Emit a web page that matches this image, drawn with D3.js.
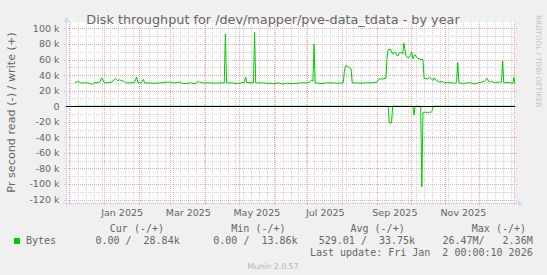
<!DOCTYPE html>
<html lang="en">
<head>
<meta charset="utf-8">
<title>Disk throughput for /dev/mapper/pve-data_tdata - by year</title>
<style type="text/css">
    body { margin: 0; background: #f0f0f0; }
    svg { display: block; }
    .txt { font-family: "DejaVu Sans", sans-serif; fill: #666; }
    .mono { font-family: "DejaVu Sans Mono", monospace; fill: #666; font-size: 10px; white-space: pre; }
</style>
</head>
<body>
<svg class="chart" width="547" height="275"></svg>
<script src="https://d3js.org/d3.v7.min.js"></script>
<script>
// write (+) bytes per second, in k
var writeDates = ["2024-12-06","2024-12-09","2024-12-11","2024-12-18","2024-12-21","2024-12-23","2024-12-28","2024-12-30","2025-01-01",
    "2025-01-04","2025-01-08","2025-01-11","2025-01-13","2025-01-15","2025-01-17","2025-01-18","2025-01-20","2025-01-24","2025-01-28",
    "2025-01-30","2025-01-31","2025-02-03","2025-02-05","2025-02-06","2025-02-15","2025-02-20","2025-02-26","2025-02-28","2025-03-04",
    "2025-03-09","2025-03-13","2025-03-19","2025-03-23","2025-03-26","2025-03-27","2025-03-30","2025-04-05","2025-04-10","2025-04-14",
    "2025-04-18","2025-04-19","2025-04-20","2025-04-25","2025-04-30","2025-05-03","2025-05-06","2025-05-07","2025-05-08","2025-05-14",
    "2025-05-15","2025-05-16","2025-05-22","2025-05-27","2025-06-01","2025-06-05","2025-06-09","2025-06-13","2025-06-19","2025-06-25",
    "2025-06-30","2025-07-03","2025-07-05","2025-07-06","2025-07-07","2025-07-08","2025-07-14","2025-07-18","2025-07-23","2025-07-27",
    "2025-08-02","2025-08-03","2025-08-04","2025-08-06","2025-08-08","2025-08-09","2025-08-10","2025-08-13","2025-08-17","2025-08-22",
    "2025-08-28","2025-09-01","2025-09-03","2025-09-06","2025-09-09","2025-09-10","2025-09-11","2025-09-13","2025-09-15","2025-09-17",
    "2025-09-19","2025-09-20","2025-09-21","2025-09-23","2025-09-24","2025-09-25","2025-09-27","2025-09-29","2025-10-01","2025-10-02",
    "2025-10-03","2025-10-05","2025-10-07","2025-10-10","2025-10-12","2025-10-13","2025-10-16","2025-10-18","2025-10-21","2025-10-22",
    "2025-10-24","2025-10-27","2025-10-29","2025-10-31","2025-11-03","2025-11-07","2025-11-09","2025-11-11","2025-11-12","2025-11-13",
    "2025-11-17","2025-11-20","2025-11-24","2025-11-27","2025-11-30","2025-12-03","2025-12-06","2025-12-08","2025-12-10","2025-12-12",
    "2025-12-15","2025-12-18","2025-12-21","2025-12-22","2025-12-23","2025-12-26","2025-12-29","2025-12-31","2026-01-01","2026-01-02"];
var writeValues = [30.4,32,30,30,28,30,31,36.5,30.5,
    30,31,36,33,34,32,33,30,30,30.5,
    37.5,30.5,30,34.5,30,29.5,30,31,31,30,
    31,29,30,29,32,31,30,30,29.5,30,
    30,93,30,30,29,30,30.5,37.5,30.5,30,
    95,30,30,29.5,29,30,28.5,29.5,29,30,
    30,31,34,32,80,30,29,30,30,29.5,
    30,45,52,51,49,48,30,30,29.5,30,
    30,31,35,35,36,62,72.7,73.5,67,70,
    65,65,69,69,67,81,64,62,66,70,
    61,66,62,60,60,36,35,37,33,36.5,
    33,31,32,30,30.5,30,29.5,31,56,30,
    29,30,30,28.5,30,31,32,36,31,32,
    30,31,31,58,30,30.5,30,29.5,37,29];

// read (-) bytes per second, in k
var readDates = ["2024-12-06","2025-09-11","2025-09-12","2025-09-14","2025-09-15","2025-10-03","2025-10-04","2025-10-05",
    "2025-10-10","2025-10-11","2025-10-12","2025-10-14","2025-10-16","2025-10-18","2025-10-19","2025-10-20","2025-10-21","2026-01-02"];
var readValues = [0,0,-21.5,-21.5,0,0,-11.5,0,
    0,-103.5,-8.5,-7.5,-8.2,-7.6,-8,-6.5,0,0];

var yTicks = [100000, 80000, 60000, 40000, 20000, 0, -20000, -40000, -60000, -80000, -100000, -120000];
var yTickLabels = ["100 k", "80 k", "60 k", "40 k", "20 k", "0", "-20 k", "-40 k", "-60 k", "-80 k", "-100 k", "-120 k"];
var xLabelMonths = ["2025-01", "2025-03", "2025-05", "2025-07", "2025-09", "2025-11"];
var xLabels = ["Jan 2025", "Mar 2025", "May 2025", "Jul 2025", "Sep 2025", "Nov 2025"];

var legendHeads = ["Cur (-/+)", "Min (-/+)", "Avg (-/+)", "Max (-/+)"];
var legendValues = ["0.00 /  28.84k", "0.00 /  13.86k", "529.01 /  33.75k", "26.47M/   2.36M"];

var svg = d3.select('.chart'),
    width = +svg.attr('width'),
    height = +svg.attr('height'),
    canvas = {left: 66, right: 515, top: 22, bottom: 203};

var parseDay = d3.timeParse('%Y-%m-%d'),
    parseMonth = d3.timeParse('%Y-%m');

var tStart = new Date(2024, 10, 28), tEnd = new Date(2026, 0, 2);

var x = d3.scaleTime().domain([tStart, tEnd]).range([canvas.left, canvas.right]),
    y = d3.scaleLinear().domain([-120000, 100000]).range([199.6, 28.4]);

function px(v) { return Math.round(v) + 0.5; }

svg.append('rect').attr('width', width).attr('height', height).attr('fill', '#f0f0f0');
svg.append('rect')
    .attr('x', canvas.left).attr('y', canvas.top)
    .attr('width', canvas.right - canvas.left).attr('height', canvas.bottom - canvas.top)
    .attr('fill', '#fff');

// grid
var grid = svg.append('g').attr('fill', 'none').attr('stroke-width', 1).attr('stroke-dasharray', '1,1');

var minorY = d3.range(-120000, 100001, 10000).filter(function(v) { return v % 20000 !== 0; });
grid.selectAll('.hmin').data(minorY).enter().append('line')
    .attr('x1', canvas.left).attr('x2', canvas.right)
    .attr('y1', function(d) { return px(y(d)); }).attr('y2', function(d) { return px(y(d)); })
    .attr('stroke', '#d4d4d4');

var weeks = d3.timeMonday.range(tStart, tEnd);
grid.selectAll('.vmin').data(weeks).enter().append('line')
    .attr('x1', function(d) { return px(x(d)); }).attr('x2', function(d) { return px(x(d)); })
    .attr('y1', canvas.top).attr('y2', canvas.bottom)
    .attr('stroke', '#d4d4d4');

grid.selectAll('.hmaj').data(yTicks).enter().append('line')
    .attr('x1', canvas.left - 2).attr('x2', canvas.right + 2)
    .attr('y1', function(d) { return px(y(d)); }).attr('y2', function(d) { return px(y(d)); })
    .attr('stroke', '#f3a5a5');

var months = d3.timeMonth.range(d3.timeMonth.ceil(tStart), tEnd);
grid.selectAll('.vmaj').data(months).enter().append('line')
    .attr('x1', function(d) { return px(x(d)); }).attr('x2', function(d) { return px(x(d)); })
    .attr('y1', canvas.top).attr('y2', canvas.bottom + 3)
    .attr('stroke', '#f3a5a5');

// axes
var axisCol = '#cfd6f8';
svg.append('line').attr('x1', canvas.left - 3).attr('x2', canvas.right + 3)
    .attr('y1', canvas.bottom + 0.5).attr('y2', canvas.bottom + 0.5).attr('stroke', axisCol);
svg.append('line').attr('x1', canvas.left + 0.5).attr('x2', canvas.left + 0.5)
    .attr('y1', canvas.bottom + 3).attr('y2', canvas.top - 2).attr('stroke', axisCol);
svg.append('path').attr('fill', axisCol)
    .attr('d', 'M' + (canvas.right + 8) + ',' + (canvas.bottom + 0.5) + 'l-5,-3v6z');
svg.append('path').attr('fill', axisCol)
    .attr('d', 'M' + (canvas.left + 0.5) + ',' + (canvas.top - 5) + 'l-3,5h6z');

// data lines
var line = d3.line()
    .x(function(d) { return x(d[0]); })
    .y(function(d) { return y(d[1] * 1000); });

var writeData = writeDates.map(function(d, i) { return [parseDay(d), writeValues[i]]; }),
    readData = readDates.map(function(d, i) { return [parseDay(d), readValues[i]]; });

svg.append('path').datum(readData).attr('d', line)
    .attr('fill', 'none').attr('stroke', '#00cc00').attr('stroke-width', 1);
svg.append('path').datum(writeData).attr('d', line)
    .attr('fill', 'none').attr('stroke', '#00cc00').attr('stroke-width', 1);

// zero line
svg.append('line').attr('x1', canvas.left).attr('x2', canvas.right)
    .attr('y1', px(y(0))).attr('y2', px(y(0))).attr('stroke', '#000');

// y tick labels
svg.selectAll('.ylab').data(yTicks).enter().append('text')
    .attr('class', 'txt').attr('font-size', '9.5px')
    .attr('x', 59.5).attr('y', function(d) { return y(d); }).attr('dy', '0.36em')
    .attr('text-anchor', 'end')
    .text(function(d, i) { return yTickLabels[i]; });

// x labels, centered half a month after month start
svg.selectAll('.xlab').data(xLabelMonths).enter().append('text')
    .attr('class', 'txt').attr('font-size', '9.5px')
    .attr('x', function(d) { return x(d3.timeDay.offset(parseMonth(d), 16)); })
    .attr('y', 215.5).attr('text-anchor', 'middle')
    .text(function(d, i) { return xLabels[i]; });

// titles
svg.append('text').attr('class', 'txt').attr('font-size', '12.8px')
    .attr('x', 273).attr('y', 24).attr('text-anchor', 'middle')
    .text('Disk throughput for /dev/mapper/pve-data_tdata - by year');

svg.append('text').attr('class', 'txt').attr('font-size', '11.2px')
    .attr('transform', 'translate(15,112.5) rotate(-90)').attr('text-anchor', 'middle')
    .text('Pr second read (-) / write (+)');

svg.append('text').attr('class', 'txt').attr('font-size', '7.2px').style('fill', '#c4c4c4')
    .attr('transform', 'translate(536,15) rotate(90)')
    .text('RRDTOOL / TOBI OETIKER');

// legend
svg.append('rect').attr('x', 14).attr('y', 238).attr('width', 6).attr('height', 6).attr('fill', '#00cc00');
svg.append('text').attr('class', 'mono').attr('x', 26).attr('y', 244).text('Bytes');

var headEnds = [164, 285.5, 404.7, 526],
    valueEnds = [179.7, 297.6, 415.1, 532.7];
svg.selectAll('.lhead').data(legendHeads).enter().append('text')
    .attr('class', 'mono').attr('text-anchor', 'end')
    .attr('x', function(d, i) { return headEnds[i]; }).attr('y', 232)
    .text(function(d) { return d; });
svg.selectAll('.lval').data(legendValues).enter().append('text')
    .attr('class', 'mono').attr('text-anchor', 'end')
    .attr('x', function(d, i) { return valueEnds[i]; }).attr('y', 244)
    .text(function(d) { return d; });
svg.append('text').attr('class', 'mono').attr('text-anchor', 'end')
    .attr('x', 532.7).attr('y', 256)
    .text('Last update: Fri Jan  2 00:00:10 2026');

svg.append('text').attr('class', 'txt').attr('font-size', '7.8px').style('fill', '#b4b4b4')
    .attr('x', 273).attr('y', 269).attr('text-anchor', 'middle')
    .text('Munin 2.0.57');
</script>
</body>
</html>
